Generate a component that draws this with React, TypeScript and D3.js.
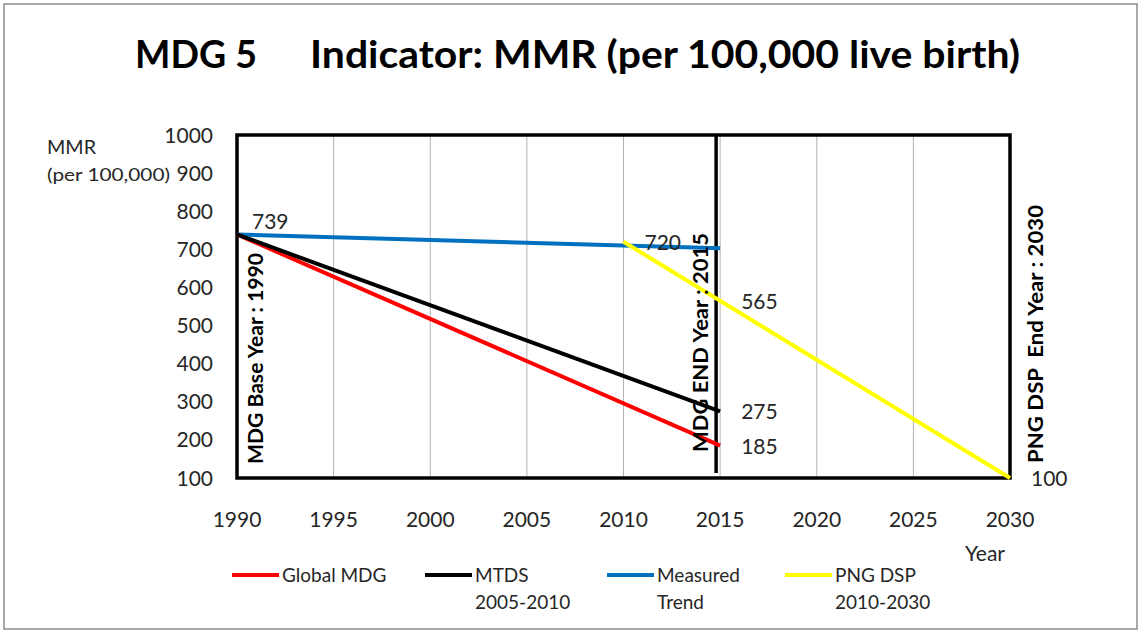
import { useEffect, useRef } from 'react';
import * as d3 from 'd3';

// Chart data
const years = [1990, 1995, 2000, 2005, 2010, 2015, 2020, 2025, 2030];
const yTicks = [100, 200, 300, 400, 500, 600, 700, 800, 900, 1000];

const seriesNames = ['Global MDG', 'MTDS', 'Measured', 'PNG DSP'];
const seriesSubNames = ['', '2005-2010', 'Trend', '2010-2030'];
const seriesColors = ['#ff0000', '#000000', '#0070c0', '#ffff00'];
const globalMdg = [[1990, 739], [2015, 185]];
const mtds = [[1990, 739], [2015, 275]];
const measured = [[1990, 739], [2015, 703]];
const pngDsp = [[2010, 720], [2030, 100]];

// data labels: [year, value, text]
const pointLabels: [number, number, string][] = [
  [1990, 739, '739'],
  [2010, 720, '720'],
  [2015, 565, '565'],
  [2015, 275, '275'],
  [2015, 185, '185'],
  [2030, 100, '100'],
];

const W = 1141;
const H = 633;

const App = () => {
  const ref = useRef<SVGSVGElement>(null);

  useEffect(() => {
    if (!ref.current) return;
    const svg = d3.select(ref.current);
    svg.selectAll('*').remove();

    const font = "Lato, 'Liberation Sans', Arial, sans-serif";
    const textColor = '#262626';
    const margin = { top: 135, left: 237, right: W - 1010, bottom: H - 478 };
    const x = d3.scaleLinear().domain([1990, 2030]).range([margin.left, W - margin.right]);
    const y = d3.scaleLinear().domain([100, 1000]).range([H - margin.bottom, margin.top]);

    // outer frame
    svg.append('rect')
      .attr('x', 4).attr('y', 4).attr('width', W - 8).attr('height', H - 8)
      .attr('fill', 'white').attr('stroke', '#8c8c8c').attr('stroke-width', 1.5);

    // title
    svg.append('text')
      .attr('x', 135).attr('y', 68)
      .attr('font-family', font).attr('font-weight', 'bold').attr('font-size', 38)
      .attr('textLength', 122).attr('lengthAdjust', 'spacingAndGlyphs')
      .text('MDG 5');
    svg.append('text')
      .attr('x', 310).attr('y', 68)
      .attr('font-family', font).attr('font-weight', 'bold').attr('font-size', 38)
      .attr('textLength', 710).attr('lengthAdjust', 'spacingAndGlyphs')
      .text('Indicator: MMR (per 100,000 live birth)');

    // vertical gridlines
    svg.append('g').selectAll('line')
      .data(years.slice(1, -1))
      .enter().append('line')
      .attr('x1', d => x(d)).attr('x2', d => x(d))
      .attr('y1', y(1000)).attr('y2', y(100))
      .attr('stroke', '#b4b4b4').attr('stroke-width', 1);

    // MDG end year marker
    svg.append('line')
      .attr('x1', x(2015) - 4).attr('x2', x(2015) - 4)
      .attr('y1', y(1000)).attr('y2', y(100) - 5)
      .attr('stroke', '#000').attr('stroke-width', 3.5);

    // plot box
    svg.append('rect')
      .attr('x', x(1990)).attr('y', y(1000))
      .attr('width', x(2030) - x(1990)).attr('height', y(100) - y(1000))
      .attr('fill', 'none').attr('stroke', '#000').attr('stroke-width', 3.5);

    // y axis labels
    svg.append('g').selectAll('text')
      .data(yTicks)
      .enter().append('text')
      .attr('x', 213).attr('y', d => y(d)).attr('dy', '0.36em')
      .attr('text-anchor', 'end')
      .attr('font-family', font).attr('font-size', 21).attr('fill', textColor)
      .text(d => d);

    // x axis labels
    svg.append('g').selectAll('text')
      .data(years)
      .enter().append('text')
      .attr('x', d => x(d)).attr('y', 527)
      .attr('text-anchor', 'middle')
      .attr('font-family', font).attr('font-size', 21).attr('fill', textColor)
      .text(d => d);

    svg.append('text')
      .attr('x', 965).attr('y', 561)
      .attr('font-family', font).attr('font-size', 21).attr('fill', textColor)
      .text('Year');

    svg.append('text')
      .attr('x', 47).attr('y', 154)
      .attr('font-family', font).attr('font-size', 19).attr('fill', textColor)
      .attr('textLength', 49).attr('lengthAdjust', 'spacingAndGlyphs')
      .text('MMR');
    svg.append('text')
      .attr('x', 47).attr('y', 181)
      .attr('font-family', font).attr('font-size', 18).attr('fill', textColor)
      .attr('textLength', 123).attr('lengthAdjust', 'spacingAndGlyphs')
      .text('(per 100,000)');

    // series lines
    const line = d3.line<number[]>().x(d => x(d[0])).y(d => y(d[1]));
    const allSeries = [measured, globalMdg, mtds, pngDsp];
    const allColors = [seriesColors[2], seriesColors[0], seriesColors[1], seriesColors[3]];
    allSeries.forEach((s, i) => {
      svg.append('path')
        .attr('d', line(s))
        .attr('fill', 'none')
        .attr('stroke', allColors[i])
        .attr('stroke-width', 4);
    });

    // data labels
    svg.append('g').selectAll('text')
      .data(pointLabels)
      .enter().append('text')
      .attr('x', d => x(d[0]) + (d[0] === 1990 ? 15 : 21))
      .attr('y', d => y(d[1]) + (d[0] === 1990 ? -5 : 8))
      .attr('font-family', font).attr('font-size', 21).attr('fill', textColor)
      .text(d => d[2]);

    // rotated year markers
    const vLabels: [number, number, string, number][] = [
      [263, 464, 'MDG Base Year : 1990', 211],
      [708, 452, 'MDG END Year : 2015', 219],
      [1043, 463, 'PNG DSP\u00a0 End Year : 2030', 258],
    ];
    vLabels.forEach(([lx, ly, t, len]) => {
      svg.append('text')
        .attr('transform', `translate(${lx},${ly}) rotate(-90)`)
        .attr('font-family', font).attr('font-weight', 'bold').attr('font-size', 21)
        .attr('textLength', len).attr('lengthAdjust', 'spacingAndGlyphs')
        .attr('fill', '#000')
        .text(t);
    });

    // legend
    const legendX = [232, 425, 607, 785];
    seriesNames.forEach((name, i) => {
      const g = svg.append('g').attr('transform', `translate(${legendX[i]},575)`);
      g.append('line')
        .attr('x1', 0).attr('x2', 47).attr('y1', 0).attr('y2', 0)
        .attr('stroke', seriesColors[i]).attr('stroke-width', 4);
      g.append('text')
        .attr('x', 50).attr('y', 7)
        .attr('font-family', font).attr('font-size', 19).attr('fill', textColor)
        .text(name);
      if (seriesSubNames[i]) {
        g.append('text')
          .attr('x', 50).attr('y', 34)
          .attr('font-family', font).attr('font-size', 19).attr('fill', textColor)
          .text(seriesSubNames[i]);
      }
    });
  }, []);

  return (
    <div style={{ position: 'absolute', left: 0, top: 0 }}>
      <svg ref={ref} width={W} height={H} style={{ display: 'block', background: 'white' }} />
    </div>
  );
};

export default App;
